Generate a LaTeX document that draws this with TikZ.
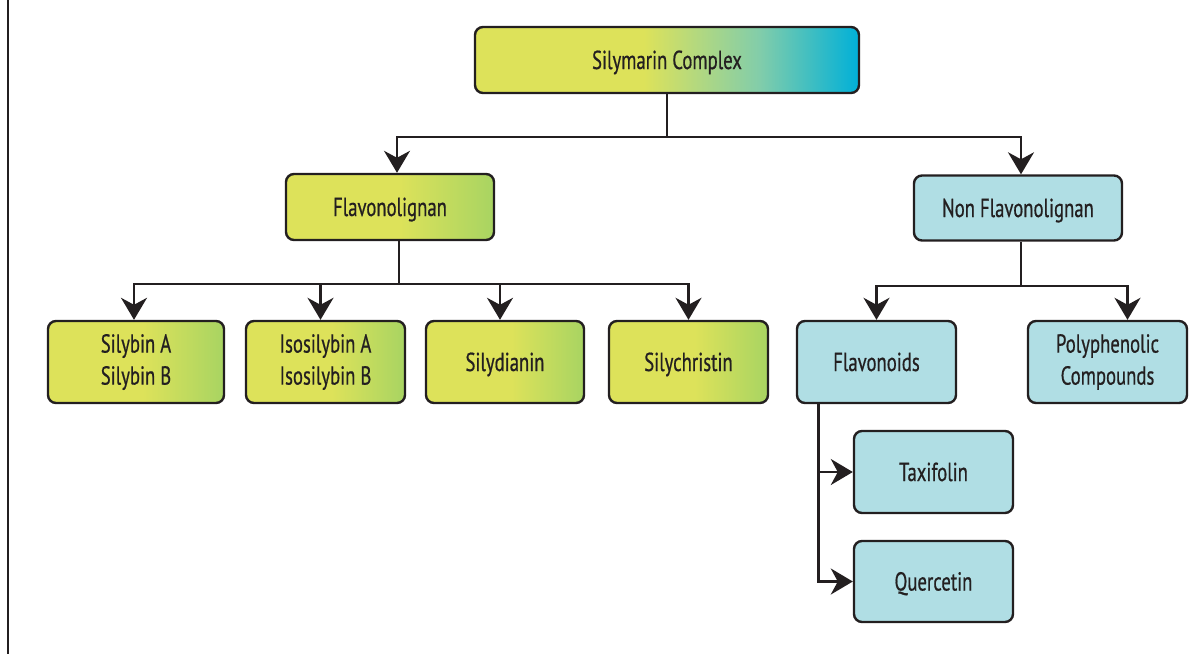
\documentclass[tikz,border=0pt]{standalone}
\usepackage{fontspec}
\setmainfont{PT Sans}[FakeStretch=0.72, FakeBold=0.6]
\usetikzlibrary{arrows.meta}
\definecolor{yl}{RGB}{221,226,90}
\definecolor{gr}{RGB}{168,212,98}
\definecolor{cy}{RGB}{0,176,216}
\definecolor{mc}{RGB}{130,205,170}
\definecolor{lb}{RGB}{176,222,228}
\definecolor{tx}{RGB}{35,31,32}
\pgfdeclarehorizontalshading{topshade}{100bp}{color(0bp)=(yl); color(47bp)=(yl); color(62bp)=(mc); color(75bp)=(cy); color(100bp)=(cy)}
\pgfdeclarehorizontalshading{grshade}{100bp}{color(0bp)=(yl); color(52bp)=(yl); color(75bp)=(gr); color(100bp)=(gr)}
\tikzset{
  box/.style={draw=tx, line width=2.4pt, rounded corners=8pt, text=tx, align=center, font=\fontsize{26}{32}\selectfont, inner sep=0pt},
  one/.style={text height=18pt, text depth=0pt},
  gbox/.style={box, shading=grshade},
  bbox/.style={box, fill=lb},
  arr/.style={draw=tx, line width=2.4pt, -{Stealth[length=22pt, width=26pt, inset=7pt]}},
  ln/.style={draw=tx, line width=2.4pt},
}
\begin{document}
\begin{tikzpicture}[x=1pt,y=-1pt]
\useasboundingbox (0,0) rectangle (1204,654);
\draw[tx, line width=2pt] (8,0) -- (8,654);
\node[box, one, shading=topshade, minimum width=384, minimum height=66] (top) at (667,60) {Silymarin Complex};
\node[gbox, one, minimum width=208, minimum height=66] (flav) at (390,207) {Flavonolignan};
\node[bbox, one, minimum width=208, minimum height=65] (non) at (1018,208) {Non Flavonolignan};
\node[gbox, minimum width=176, minimum height=82] (sil) at (136,362) {Silybin A\\Silybin B};
\node[gbox, minimum width=159, minimum height=82] (iso) at (325.5,362) {Isosilybin A\\Isosilybin B};
\node[gbox, one, minimum width=158, minimum height=82] (sild) at (505,362) {Silydianin};
\node[gbox, one, minimum width=159, minimum height=82] (silc) at (688.5,362) {Silychristin};
\node[bbox, one, minimum width=159, minimum height=82] (flavo) at (876.5,362) {Flavonoids};
\node[bbox, minimum width=159, minimum height=82] (poly) at (1107.5,362) {Polyphenolic\\Compounds};
\node[bbox, one, minimum width=159, minimum height=82] (taxi) at (933.5,472) {Taxifolin};
\node[bbox, one, minimum width=159, minimum height=81] (quer) at (933.5,581.5) {Quercetin};
% level 1
\coordinate (j1) at (667,137);
\draw[ln] (top.south) -- (j1);
\draw[arr] (j1) -| ([xshift=7pt]flav.north);
\draw[arr] (j1) -| ([xshift=3pt]non.north);
% level 2 left
\coordinate (j2) at (399,284);
\draw[ln] ([xshift=9pt]flav.south) -- (j2);
\draw[arr] (j2) -| ([xshift=-2pt]sil.north);
\draw[arr] (j2) -| ([xshift=-5pt]iso.north);
\draw[arr] (j2) -| ([xshift=-5pt]sild.north);
\draw[arr] (j2) -| (silc.north);
% level 2 right
\coordinate (j3) at (1021,286);
\draw[ln] ([xshift=3pt]non.south) -- (j3);
\draw[arr] (j3) -| (flavo.north);
\draw[arr] (j3) -| ([xshift=20pt]poly.north);
% flavonoids
\draw[arr] ([xshift=-58pt]flavo.south) |- (taxi.west);
\draw[arr] ([xshift=-58pt]flavo.south) |- (quer.west);
\end{tikzpicture}
\end{document}
